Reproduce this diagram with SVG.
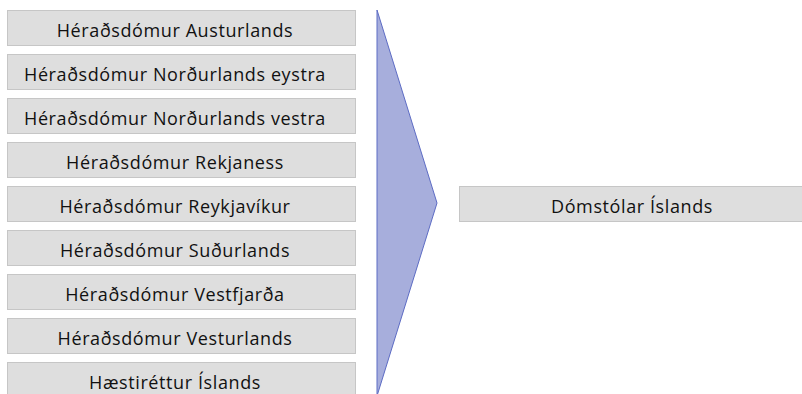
<svg xmlns="http://www.w3.org/2000/svg" width="802" height="394" viewBox="0 0 802 394">
<style>
.box{fill:#dedede;stroke:#c6c6c6;stroke-width:1}
.lbl{font-family:"Open Sans","Noto Sans",sans-serif;font-size:18px;letter-spacing:0.6px;fill:#111;text-anchor:middle}
.chev{fill:#a7aedc;stroke:#5d6cc4;stroke-width:1}
</style>
<rect width="802" height="394" fill="#fff"/>
<g id="connectors">
<polygon class="chev" points="377,10 437,203 377,396"/>
</g>
<g id="n1"><rect class="box" x="7.5" y="10.5" width="348" height="35"/><text class="lbl" x="175" y="36.5">Héraðsdómur Austurlands</text></g>
<g id="n2"><rect class="box" x="7.5" y="54.5" width="348" height="35"/><text class="lbl" x="175" y="80.5">Héraðsdómur Norðurlands eystra</text></g>
<g id="n3"><rect class="box" x="7.5" y="98.5" width="348" height="35"/><text class="lbl" x="175" y="124.5">Héraðsdómur Norðurlands vestra</text></g>
<g id="n4"><rect class="box" x="7.5" y="142.5" width="348" height="35"/><text class="lbl" x="175" y="168.5">Héraðsdómur Rekjaness</text></g>
<g id="n5"><rect class="box" x="7.5" y="186.5" width="348" height="35"/><text class="lbl" x="175" y="212.5">Héraðsdómur Reykjavíkur</text></g>
<g id="n6"><rect class="box" x="7.5" y="230.5" width="348" height="35"/><text class="lbl" x="175" y="256.5">Héraðsdómur Suðurlands</text></g>
<g id="n7"><rect class="box" x="7.5" y="274.5" width="348" height="35"/><text class="lbl" x="175" y="300.5">Héraðsdómur Vestfjarða</text></g>
<g id="n8"><rect class="box" x="7.5" y="318.5" width="348" height="35"/><text class="lbl" x="175" y="344.5">Héraðsdómur Vesturlands</text></g>
<g id="n9"><rect class="box" x="7.5" y="362.5" width="348" height="35"/><text class="lbl" x="175" y="388.5">Hæstiréttur Íslands</text></g>
<g id="n10"><rect class="box" x="459.5" y="186.5" width="346" height="35"/><text class="lbl" x="632" y="212.5">Dómstólar Íslands</text></g>
</svg>
